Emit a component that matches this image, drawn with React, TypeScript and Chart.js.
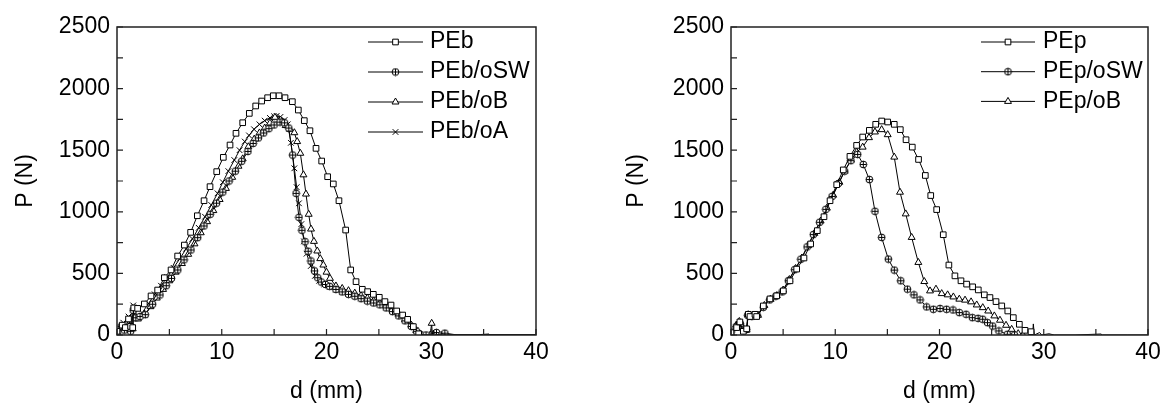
import React, { useEffect, useRef } from "react";
import { Chart, registerables } from "chart.js";
import { drawPoint } from "chart.js/helpers";

Chart.register(...registerables);

const FONT = "'Liberation Sans', Arial, Helvetica, sans-serif";

// ---------- axis ticks ----------
const xMajorTicks = [0, 10, 20, 30, 40];
const yMajorTicks = [0, 500, 1000, 1500, 2000, 2500];

// ---------- left panel ----------
const leftLabels = ["PEb", "PEb/oSW", "PEb/oB", "PEb/oA"];

const pebD = [0, 0.5, 0.8, 1.1, 1.3, 1.5, 1.6, 1.97, 2.61, 3.25, 3.88, 4.52, 5.16, 5.79, 6.43, 7.03, 7.67, 8.31, 8.88, 9.52, 10.15, 10.79, 11.36, 12.0, 12.63, 13.24, 13.81, 14.38, 14.92, 15.47, 16.04, 16.74, 17.31, 17.88, 18.42, 19.0, 19.54, 20.11, 20.65, 21.19, 21.83, 22.31, 22.82, 23.42, 23.93, 24.47, 25.04, 25.58, 26.16, 26.7, 27.27, 27.75, 28.29, 28.8, 29.3, 30.0, 30.2, 30.4, 31.0, 31.5, 32.0, 34.0, 35.5, 35.6, 37.0, 40.0];
const pebP = [30, 80, 60, 130, 70, 60, 220, 216, 252, 317, 365, 465, 528, 641, 730, 833, 968, 1090, 1204, 1326, 1442, 1542, 1637, 1723, 1799, 1859, 1899, 1926, 1942, 1942, 1926, 1894, 1826, 1740, 1658, 1515, 1412, 1285, 1226, 1090, 852, 528, 433, 371, 352, 330, 306, 271, 243, 195, 162, 127, 68, 10, 0, 0, 40, 0, 10, 0, 0, 0, 8, 0, 0, 0];

const pebSwD = [0, 0.4, 0.7, 1.0, 1.3, 1.55, 1.8, 2.2, 2.7, 3.4, 4.1, 4.7, 5.2, 5.8, 6.4, 7.06, 7.7, 8.3, 8.9, 9.5, 10.1, 10.7, 11.3, 11.9, 12.5, 13.0, 13.5, 14.0, 14.5, 15.0, 15.56, 16.0, 16.4, 16.77, 17.1, 17.37, 17.65, 17.95, 18.25, 18.52, 18.85, 19.16, 19.5, 19.9, 20.3, 20.9, 21.5, 22.1, 22.7, 23.3, 23.9, 24.5, 25.1, 25.7, 26.3, 26.9, 27.5, 28.1, 28.6, 29.0, 29.5, 30.5, 31.0, 31.3, 32.5, 40];
const pebSwP = [10, 70, 40, 60, 30, 200, 140, 150, 165, 250, 325, 400, 460, 528, 610, 690, 790, 885, 980, 1070, 1160, 1250, 1330, 1410, 1490, 1555, 1600, 1640, 1675, 1705, 1728, 1722, 1680, 1461, 1150, 955, 850, 757, 680, 601, 520, 465, 430, 410, 395, 370, 350, 330, 315, 295, 275, 260, 245, 220, 190, 155, 115, 70, 30, 0, 0, 20, 0, 15, 0, 0];

const pebBD = [0, 0.5, 0.9, 1.2, 1.5, 1.6, 2.0, 2.6, 3.2, 3.8, 4.4, 5.0, 5.6, 6.2, 6.8, 7.4, 8.0, 8.6, 9.2, 9.8, 10.4, 11.0, 11.6, 12.0, 12.54, 13.1, 13.6, 14.1, 14.6, 15.08, 15.6, 16.1, 16.5, 16.93, 17.2, 17.5, 17.8, 18.04, 18.3, 18.52, 18.8, 19.12, 19.4, 19.7, 20.0, 20.33, 20.9, 21.5, 22.1, 22.7, 23.3, 23.9, 24.5, 25.1, 25.7, 26.3, 26.9, 27.5, 28.1, 28.6, 29.0, 29.9, 30.04, 30.1, 30.6, 40];
const pebBP = [20, 50, 90, 40, 50, 170, 130, 160, 230, 300, 370, 440, 510, 580, 655, 740, 830, 920, 1010, 1100, 1190, 1280, 1370, 1430, 1528, 1590, 1640, 1680, 1720, 1767, 1745, 1700, 1670, 1642, 1570, 1475, 1300, 1144, 980, 860, 760, 682, 620, 568, 510, 460, 398, 378, 360, 340, 320, 300, 280, 260, 235, 205, 170, 125, 80, 35, 5, 0, 95, 0, 0, 0];

const pebAD = [0, 0.6, 0.8, 1.1, 1.4, 1.55, 1.9, 2.4, 3.0, 3.6, 4.2, 4.8, 5.4, 6.0, 6.6, 7.2, 7.8, 8.4, 9.0, 9.6, 10.1, 10.63, 11.2, 11.7, 12.2, 12.6, 13.08, 13.6, 14.1, 14.6, 15.0, 15.24, 15.6, 16.0, 16.3, 16.6, 16.93, 17.15, 17.37, 17.6, 17.85, 18.1, 18.5, 18.9, 19.3, 19.8, 20.3, 20.9, 21.5, 22.1, 22.7, 23.3, 23.9, 24.5, 25.1, 25.7, 26.3, 26.9, 27.5, 28.1, 28.5, 28.9, 30.0, 40];
const pebAP = [40, 100, 50, 150, 60, 240, 150, 180, 255, 330, 400, 470, 545, 620, 700, 780, 870, 960, 1055, 1150, 1240, 1330, 1420, 1500, 1570, 1620, 1670, 1710, 1740, 1762, 1775, 1778, 1770, 1745, 1710, 1560, 1353, 1200, 1069, 900, 760, 660, 560, 480, 440, 410, 390, 368, 350, 332, 315, 297, 278, 262, 247, 222, 193, 158, 118, 72, 40, 5, 0, 0];

// ---------- right panel ----------
const rightLabels = ["PEp", "PEp/oSW", "PEp/oB"];

const pepD = [0, 0.54, 0.85, 1.18, 1.5, 1.66, 1.82, 2.3, 2.46, 3.1, 3.74, 4.38, 5.02, 5.66, 6.3, 7.0, 7.64, 8.28, 8.92, 9.5, 10.14, 10.77, 11.41, 12.05, 12.63, 13.27, 13.88, 14.45, 15.03, 15.66, 16.24, 16.79, 17.39, 17.99, 18.64, 19.16, 19.73, 20.36, 20.9, 21.48, 22.06, 22.6, 23.18, 23.72, 24.3, 24.84, 25.42, 25.97, 26.55, 27.08, 27.66, 28.2, 28.78, 28.95, 29.0, 29.1, 29.6, 29.8, 30.5, 31.0, 33.0, 35.5, 35.6, 38.0, 40];
const pepP = [19, 60, 106, 30, 50, 168, 150, 168, 150, 236, 293, 318, 358, 440, 535, 625, 739, 847, 960, 1090, 1220, 1340, 1450, 1539, 1607, 1661, 1710, 1737, 1729, 1710, 1667, 1585, 1525, 1425, 1295, 1132, 1018, 814, 568, 480, 440, 413, 391, 366, 326, 304, 271, 236, 195, 141, 87, 38, 27, 20, 90, 0, 20, 0, 10, 0, 0, 8, 0, 0, 0];

const pepSwD = [0, 0.5, 0.9, 1.2, 1.5, 1.6, 2.0, 2.5, 3.1, 3.7, 4.3, 4.9, 5.5, 6.1, 6.7, 7.3, 7.9, 8.5, 9.1, 9.7, 10.3, 10.9, 11.5, 12.15, 12.69, 13.27, 13.81, 14.45, 15.09, 15.66, 16.28, 16.92, 17.55, 18.13, 18.77, 19.41, 20.05, 20.68, 21.3, 21.9, 22.55, 23.15, 23.7, 24.14, 24.6, 25.1, 25.7, 26.5, 27.2];
const pepSwP = [25, 70, 90, 40, 45, 160, 150, 160, 225, 285, 315, 350, 440, 530, 615, 715, 815, 915, 1020, 1125, 1230, 1330, 1415, 1466, 1384, 1262, 1004, 792, 616, 527, 440, 372, 326, 285, 228, 209, 215, 209, 203, 182, 168, 141, 135, 128, 100, 73, 33, 6, 0];

const pepBD = [0, 0.5, 0.8, 1.2, 1.5, 1.65, 2.1, 2.6, 3.2, 3.8, 4.4, 5.0, 5.6, 6.2, 6.8, 7.4, 8.0, 8.6, 9.2, 9.8, 10.4, 10.9, 11.5, 12.05, 12.63, 13.24, 13.81, 14.45, 15.03, 15.66, 16.21, 16.76, 17.33, 17.97, 18.54, 19.09, 19.66, 20.21, 20.78, 21.33, 21.9, 22.45, 23.03, 23.57, 24.15, 24.67, 25.26, 25.8, 26.38, 26.92, 27.55, 28.0];
const pepBP = [15, 80, 110, 50, 40, 165, 160, 160, 240, 290, 320, 365, 450, 540, 625, 725, 825, 925, 1030, 1135, 1240, 1330, 1420, 1485, 1525, 1602, 1648, 1667, 1626, 1444, 1159, 983, 792, 589, 434, 358, 372, 336, 326, 309, 291, 283, 269, 244, 222, 195, 155, 120, 79, 46, 11, 0];

const xy = (d: number[], p: number[]) => d.map((x, i) => ({ x, y: p[i] }));

function makeCirclePlus(): HTMLCanvasElement {
  const c = document.createElement("canvas");
  c.width = 9;
  c.height = 9;
  const g = c.getContext("2d")!;
  g.fillStyle = "#fff";
  g.strokeStyle = "#000";
  g.lineWidth = 1;
  g.beginPath();
  g.arc(4.5, 4.5, 3.4, 0, Math.PI * 2);
  g.fill();
  g.stroke();
  g.beginPath();
  g.moveTo(4.5, 1.2);
  g.lineTo(4.5, 7.8);
  g.moveTo(1.2, 4.5);
  g.lineTo(7.8, 4.5);
  g.stroke();
  return c;
}

type LegendCfg = { x0: number; x1: number; tx: number; y0: number; step: number };

function framePlugin(lg: LegendCfg) {
  return {
    id: "frameAndLegend",
    afterDraw(chart: any) {
      const { ctx, chartArea: a, scales } = chart;
      ctx.save();
      ctx.strokeStyle = "#222";
      ctx.lineWidth = 1.5;
      ctx.strokeRect(a.left, a.top, a.right - a.left, a.bottom - a.top);
      ctx.lineWidth = 1.2;
      ctx.beginPath();
      for (let v = 0; v <= 40; v += 5) {
        const x = scales.x.getPixelForValue(v);
        ctx.moveTo(x, a.bottom);
        ctx.lineTo(x, a.bottom - 6);
      }
      for (let v = 0; v <= 2500; v += 250) {
        const y = scales.y.getPixelForValue(v);
        ctx.moveTo(a.left, y);
        ctx.lineTo(a.left + 6, y);
      }
      ctx.stroke();
      chart.data.datasets.forEach((ds: any, i: number) => {
        const y = lg.y0 + i * lg.step;
        ctx.strokeStyle = "#000";
        ctx.lineWidth = 1;
        ctx.beginPath();
        ctx.moveTo(lg.x0, y);
        ctx.lineTo(lg.x1, y);
        ctx.stroke();
        ctx.fillStyle = "#fff";
        drawPoint(ctx, { pointStyle: ds.pointStyle, radius: 4, rotation: 0, borderWidth: 1 } as any, (lg.x0 + lg.x1) / 2, y);
        ctx.fillStyle = "#000";
        ctx.font = `23px ${FONT}`;
        ctx.textBaseline = "middle";
        ctx.textAlign = "left";
        ctx.fillText(ds.label, lg.tx, y);
      });
      ctx.restore();
    },
  };
}

function makeDataset(label: string, data: { x: number; y: number }[], pointStyle: any, until: number) {
  return {
    label,
    data,
    borderColor: "#000",
    borderWidth: 1,
    pointStyle,
    pointRadius: (c: any) => (c.raw && c.raw.x > until ? 0 : 4),
    pointHoverRadius: 0,
    pointBackgroundColor: "#fff",
    pointBorderColor: "#000",
    pointBorderWidth: 1,
    tension: 0,
    fill: false,
  };
}

function makeOptions(padLeft: number, padRight: number, titlePad: number) {
  return {
    responsive: false,
    maintainAspectRatio: false,
    devicePixelRatio: 1,
    animation: false as const,
    layout: { padding: { left: padLeft, right: padRight, top: 27, bottom: 0 } },
    plugins: { legend: { display: false }, tooltip: { enabled: false } },
    events: [],
    scales: {
      x: {
        type: "linear" as const,
        min: 0,
        max: 40,
        afterBuildTicks: (s: any) => {
          s.ticks = xMajorTicks.map((v) => ({ value: v }));
        },
        ticks: { color: "#000", font: { family: FONT, size: 23 }, padding: 4, maxRotation: 0, callback: (v: any) => String(v) },
        grid: { display: false, drawTicks: false, tickLength: 0 },
        border: { display: false },
        title: { display: true, text: "d (mm)", color: "#000", font: { family: FONT, size: 23, lineHeight: 1.0 }, padding: { top: 0, bottom: 0 } },
        afterFit: (s: any) => {
          s.height = 68;
          s.paddingLeft = 0;
          s.paddingRight = 0;
        },
      },
      y: {
        type: "linear" as const,
        min: 0,
        max: 2500,
        afterBuildTicks: (s: any) => {
          s.ticks = yMajorTicks.map((v) => ({ value: v }));
        },
        ticks: { color: "#000", font: { family: FONT, size: 23 }, padding: 7, callback: (v: any) => String(v) },
        grid: { display: false, drawTicks: false, tickLength: 0 },
        border: { display: false },
        title: { display: true, text: "P (N)", color: "#000", font: { family: FONT, size: 23 }, padding: { top: titlePad, bottom: 0 } },
        afterFit: (s: any) => {
          s.width = 117;
          s.paddingTop = 0;
          s.paddingBottom = 0;
        },
      },
    },
  };
}

export default function App() {
  const leftRef = useRef<HTMLCanvasElement>(null);
  const rightRef = useRef<HTMLCanvasElement>(null);

  useEffect(() => {
    const circlePlus = makeCirclePlus();
    const left = new Chart(leftRef.current!, {
      type: "line",
      data: {
        datasets: [
          makeDataset(leftLabels[0], xy(pebD, pebP), "rect", 28.9),
          makeDataset(leftLabels[1], xy(pebSwD, pebSwP), circlePlus, 31.5),
          makeDataset(leftLabels[2], xy(pebBD, pebBP), "triangle", 30.05),
          makeDataset(leftLabels[3], xy(pebAD, pebAP), "crossRot", 29.0),
        ] as any,
      },
      options: makeOptions(0, 45, 12) as any,
      plugins: [framePlugin({ x0: 368, x1: 423, tx: 430, y0: 42, step: 30 })],
    });
    const right = new Chart(rightRef.current!, {
      type: "line",
      data: {
        datasets: [
          makeDataset(rightLabels[0], xy(pepD, pepP), "rect", 28.8),
          makeDataset(rightLabels[1], xy(pepSwD, pepSwP), circlePlus, 30),
          makeDataset(rightLabels[2], xy(pepBD, pepBP), "triangle", 30),
        ] as any,
      },
      options: makeOptions(33, 14, 9) as any,
      plugins: [framePlugin({ x0: 400, x1: 454, tx: 462, y0: 42, step: 29.7 })],
    });
    return () => {
      left.destroy();
      right.destroy();
    };
  }, []);

  return (
    <div style={{ position: "absolute", left: 0, top: 0, width: 1162, height: 403, background: "#fff" }}>
      <canvas ref={leftRef} width={581} height={403} style={{ position: "absolute", left: 0, top: 0, width: 581, height: 403 }} />
      <canvas ref={rightRef} width={581} height={403} style={{ position: "absolute", left: 581, top: 0, width: 581, height: 403 }} />
    </div>
  );
}
